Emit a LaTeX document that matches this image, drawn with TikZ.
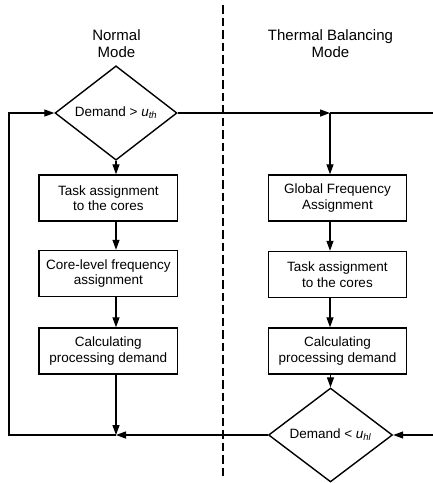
\documentclass[tikz,border=0pt]{standalone}
\usepackage{fontspec}
\setmainfont{Liberation Sans}
\usetikzlibrary{shapes.geometric,arrows.meta}
\begin{document}
\begin{tikzpicture}[x=1pt,y=-1pt,
  box/.style={draw,line width=1.4pt,rectangle,minimum width=138.5pt,minimum height=46pt,inner sep=0pt,align=center,font=\fontsize{13.5}{15.5}\selectfont},
  dec/.style={draw,line width=1.4pt,diamond,inner sep=0pt,font=\fontsize{13.5}{15.5}\selectfont},
  conn/.style={line width=1.3pt},
  arr/.style={conn,-{Triangle[length=10pt,width=7pt]}},
  sep/.style={line width=2pt,dash pattern=on 8.5pt off 4pt},
  title/.style={align=center,inner sep=0pt,font=\fontsize{15}{17}\selectfont}]
\useasboundingbox (0,0) rectangle (433,483);

% titles
\node[title] (t1) at (116.5,44) {Normal\\Mode};
\node[title] (t2) at (330.5,43.5) {Thermal Balancing\\Mode};

% left column
\node[dec,minimum width=122pt,minimum height=70pt] (d1) at (116,113) {Demand > \textit{u}\textsubscript{\textit{th}}};
\node[box] (b1) at (108.3,198) {Task assignment\\to the cores};
\node[box] (b2) at (108.3,273.5) {Core-level frequency\\assignment};
\node[box] (b3) at (108.3,351) {Calculating\\processing demand};

% right column
\node[box] (r1) at (337.5,198) {Global Frequency\\Assignment};
\node[box] (r2) at (337.5,274.5) {Task assignment\\to the cores};
\node[box] (r3) at (337.5,351) {Calculating\\processing demand};
\node[dec,minimum width=124pt,minimum height=69pt] (d2) at (330.5,435) {Demand < \textit{u}\textsubscript{\textit{hl}}};

% helper coordinates
\coordinate (j1) at (330,113);
\coordinate (re1) at (433,113);
\coordinate (re2) at (433,435);
\coordinate (jb) at (116,435);
\coordinate (lb) at (9,435);
\coordinate (lt) at (9,113);
\coordinate (st) at (223,5);
\coordinate (sb) at (223,479);

% left connectors
\draw[arr] (d1.south) -- (d1.south |- b1.north);
\draw[arr] (b1.south -| d1.south) -- (b2.north -| d1.south);
\draw[arr] (b2.south -| d1.south) -- (b3.north -| d1.south);
\draw[arr] (b3.south -| d1.south) -- (jb);
\draw[arr] (jb) -- (lb) -- (lt) -- (d1.west);

% top connector
\draw[arr] (d1.east) -- (j1);
\draw[conn] (j1) -- (re1);

% right connectors
\draw[arr] (j1) -- (j1 |- r1.north);
\draw[arr] (r1.south -| j1) -- (r2.north -| j1);
\draw[arr] (r2.south -| j1) -- (r3.north -| j1);
\draw[arr] (d2.north |- r3.south) -- (d2.north);
\draw[arr] (re2) -- (d2.east);
\draw[arr] (d2.west) -- (jb);

% separator
\draw[sep] (st) -- (sb);
\end{tikzpicture}
\end{document}
